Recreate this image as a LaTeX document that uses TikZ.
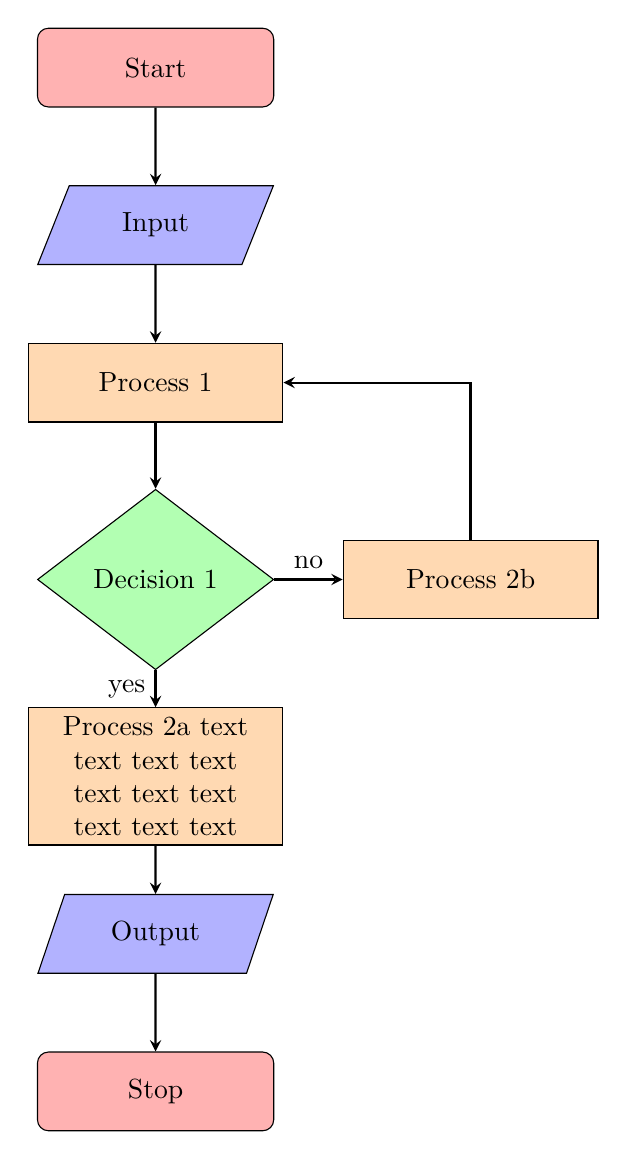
\documentclass[tikz,border=0pt]{standalone}
\usetikzlibrary{shapes.geometric,arrows}
\tikzset{
  startstop/.style={rectangle, rounded corners, minimum width=3cm, minimum height=1cm, text centered, draw=black, fill=red!30},
  io/.style={trapezium, trapezium stretches=true, trapezium left angle=70, trapezium right angle=110, minimum width=3cm, minimum height=1cm, text centered, draw=black, fill=blue!30},
  process/.style={rectangle, minimum width=3cm, minimum height=1cm, text centered, text width=3cm, draw=black, fill=orange!30},
  decision/.style={diamond, minimum width=3cm, minimum height=1cm, text centered, draw=black, fill=green!30},
  arrow/.style={thick,->,>=stealth}
}
\begin{document}
\begin{tikzpicture}[node distance=2cm]
\node (start) [startstop] {Start};
\node (in1) [io, below of=start] {Input};
\node (pro1) [process, below of=in1] {Process 1};
\node (dec1) [decision, below of=pro1, yshift=-0.5cm] {Decision 1};
\node (pro2a) [process, below of=dec1, yshift=-0.5cm] {Process 2a text text text text text text text text text text};
\node (pro2b) [process, right of=dec1, xshift=2cm] {Process 2b};
\node (out1) [io, below of=pro2a] {Output};
\node (stop) [startstop, below of=out1] {Stop};
\draw [arrow] (start) -- (in1);
\draw [arrow] (in1) -- (pro1);
\draw [arrow] (pro1) -- (dec1);
\draw [arrow] (dec1) -- node[anchor=east] {yes} (pro2a);
\draw [arrow] (dec1) -- node[anchor=south] {no} (pro2b);
\draw [arrow] (pro2b) |- (pro1);
\draw [arrow] (pro2a) -- (out1);
\draw [arrow] (out1) -- (stop);
\path ([shift={(-10pt,-10pt)}]current bounding box.south west) rectangle ([shift={(10pt,10pt)}]current bounding box.north east);
\end{tikzpicture}
\end{document}
